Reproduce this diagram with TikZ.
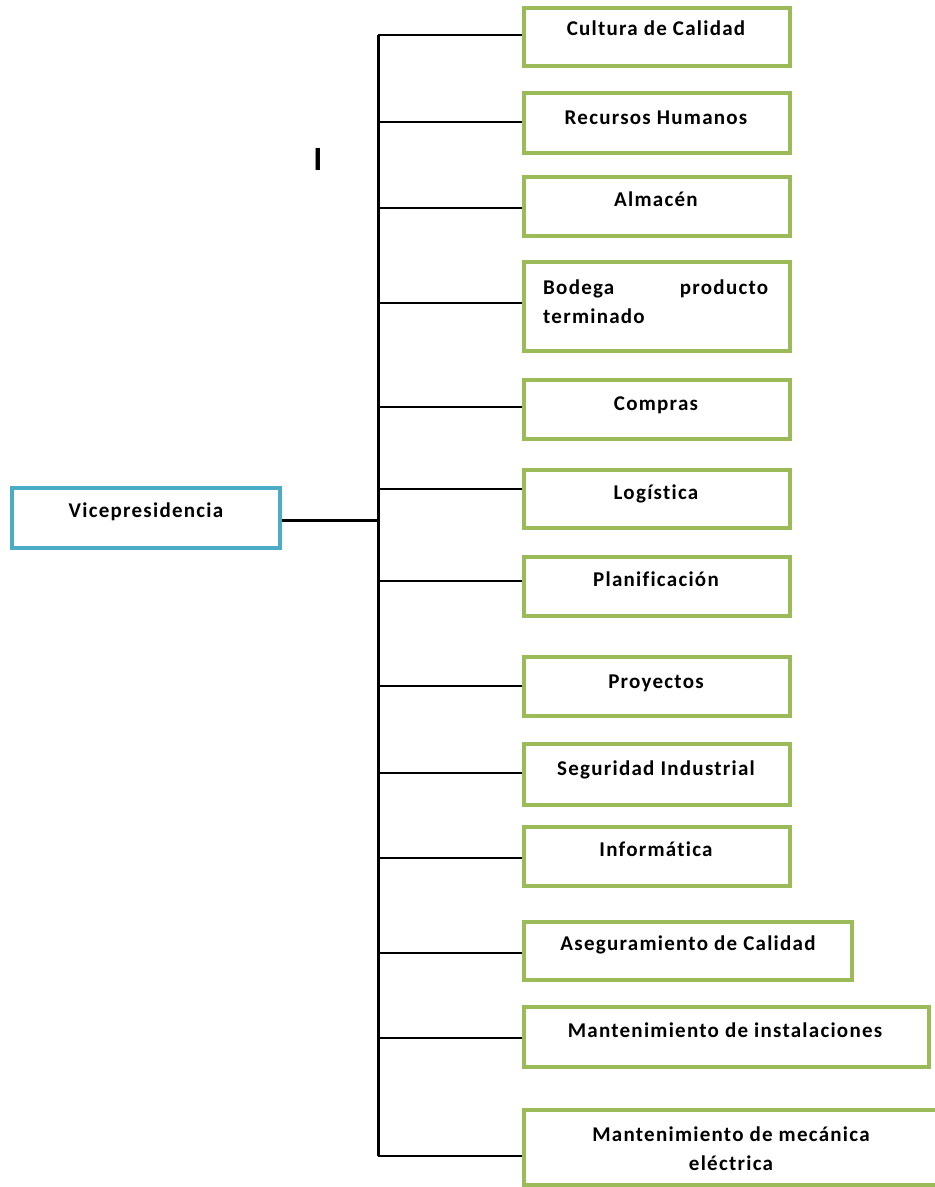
\documentclass[tikz,border=0pt]{standalone}
\usepackage{fontspec}
\setmainfont{Carlito}
\newfontfamily\boxfont{Carlito}[LetterSpace=6,Ligatures=NoCommon]
\usetikzlibrary{calc}
\definecolor{unitgreen}{HTML}{9BBB59}
\definecolor{headblue}{HTML}{4BACC6}
\begin{document}
\begin{tikzpicture}[x=1pt,y=-1pt,
  unit/.style={draw=unitgreen,line width=4pt,rectangle,inner sep=0pt},
  head/.style={draw=headblue,line width=4pt,rectangle,inner sep=0pt},
  lbl/.style={font=\boxfont\bfseries\fontsize{21}{29}\selectfont,inner sep=0pt,anchor=base},
  trunk/.style={line width=3pt},
  branch/.style={line width=1.6pt}]
\useasboundingbox (0,0) rectangle (935,1187);

% head box
\node[head,minimum width=268pt,minimum height=60pt] (vp) at (146,518) {};
\node[lbl] (vpt) at (146,517) {Vicepresidencia};

% unit boxes: (name) at centre, width, height
\newcommand{\unitbox}[5]{%
  \node[unit,minimum width=#4pt,minimum height=#5pt] (#1) at (#2,#3) {};}
\unitbox{b1}{657}{37}{266}{58}
\unitbox{b2}{657}{123}{266}{60}
\unitbox{b3}{657}{206.5}{266}{59}
\unitbox{b4}{657}{306.5}{266}{89}
\unitbox{b5}{657}{409.5}{266}{59}
\unitbox{b6}{657}{498.5}{266}{58}
\unitbox{b7}{657}{586.5}{266}{59}
\unitbox{b8}{657}{686.5}{266}{59}
\unitbox{b9}{657}{774.5}{266}{61}
\unitbox{b10}{657}{856.5}{266}{59}
\unitbox{b11}{688}{951}{328}{58}
\unitbox{b12}{726.5}{1037}{405}{60}
\unitbox{b13}{734.5}{1147.5}{421}{75}

% unit labels
\node[lbl] (t1) at (656,35) {Cultura de Calidad};
\node[lbl] (t2) at (656,124) {Recursos Humanos};
\node[lbl] (t3) at (656,206) {Almacén};
\node[lbl,text width=225pt,align=justify,anchor=base west] (t4) at (543,294)
  {Bodega\hfill producto\\terminado};
\node[lbl] (t5) at (656,410) {Compras};
\node[lbl] (t6) at (656,499) {Logística};
\node[lbl] (t7) at (656,586) {Planificación};
\node[lbl] (t8) at (656,688) {Proyectos};
\node[lbl] (t9) at (656,775) {Seguridad Industrial};
\node[lbl] (t10) at (656,856) {Informática};
\node[lbl] (t11) at (688,950) {Aseguramiento de Calidad};
\node[lbl] (t12) at (725,1037) {Mantenimiento de instalaciones};
\node[lbl,align=center,anchor=base] (t13) at (731,1170)
  {Mantenimiento de mecánica\\eléctrica};

% stray mark
\node[font=\bfseries\fontsize{34}{34}\selectfont,inner sep=0pt,anchor=base] (mk) at (318,170) {I};

% trunk and branch points
\coordinate (top) at (378,35);
\coordinate (bot) at (378,1156);
\foreach \n/\y in {1/35,2/122,3/208,4/303,5/407,6/489,7/581,8/686,9/773,10/858,11/953,12/1038,13/1156}
  \coordinate (j\n) at (378,\y);
\coordinate (jv) at (378,520);

\draw[trunk] (top) -- (bot);
\draw[trunk] (vp.east |- jv) -- (jv);
\foreach \n in {1,...,13}
  \draw[branch] (j\n) -- (j\n -| b\n.west);
\end{tikzpicture}
\end{document}
